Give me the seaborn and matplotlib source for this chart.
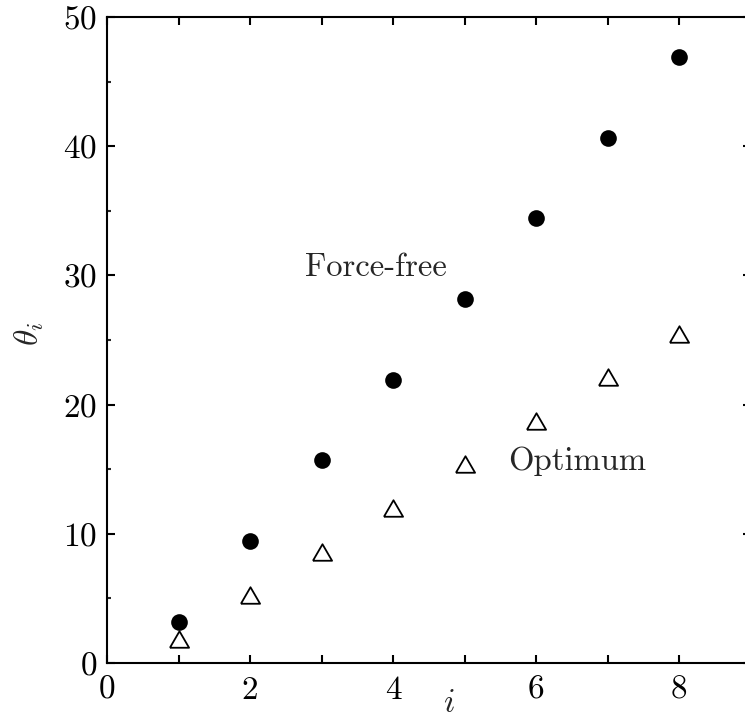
import matplotlib
matplotlib.use("Agg")
import matplotlib.pyplot as plt
from matplotlib.ticker import FixedLocator, FuncFormatter, MultipleLocator
import numpy as np
import pandas as pd
import seaborn as sns

# Link index
i_values = [1, 2, 3, 4, 5, 6, 7, 8]
# Angles for the force-free configuration
theta_force_free = [3.2, 9.45, 15.7, 21.9, 28.2, 34.45, 40.65, 46.9]
# Angles for the optimum configuration
theta_optimum = [1.85, 5.25, 8.6, 12.0, 15.4, 18.75, 22.1, 25.5]

x_ticks = [0, 1, 2, 3, 4, 5, 6, 7, 8, 9]
y_ticks = [0, 10, 20, 30, 40, 50]

sns.set_style("ticks")
plt.rcParams["font.family"] = ["cmr10"]
plt.rcParams["mathtext.fontset"] = "cm"
plt.rcParams["axes.unicode_minus"] = False
plt.rcParams["axes.formatter.use_mathtext"] = True

df = pd.DataFrame({
    "i": i_values * 2,
    "theta": theta_force_free + theta_optimum,
    "case": ["Force-free"] * len(i_values) + ["Optimum"] * len(i_values),
})

fig = plt.figure(figsize=(7.45, 7.21), dpi=100)
ax = fig.add_axes([107 / 745, 58 / 721, 643.5 / 745, 646 / 721])

tri = [(-0.58, -0.5), (0.58, -0.5), (0.0, 0.5), (-0.58, -0.5)]

sns.scatterplot(data=df[df["case"] == "Force-free"], x="i", y="theta",
                marker="o", s=144, color="black", linewidth=0, ax=ax,
                legend=False, zorder=3)
sns.scatterplot(data=df[df["case"] == "Optimum"], x="i", y="theta",
                marker=tri, s=190, facecolor="white", edgecolor="black",
                linewidth=1.3, ax=ax, legend=False, zorder=3)

ax.set_xlim(0, 9)
ax.set_ylim(0, 50)

ax.xaxis.set_major_locator(FixedLocator(x_ticks))
ax.xaxis.set_major_formatter(FuncFormatter(lambda v, p: f"{int(v)}" if int(v) % 2 == 0 and v < 9 else ""))
ax.yaxis.set_major_locator(FixedLocator(y_ticks))
ax.yaxis.set_minor_locator(MultipleLocator(5))

for side in ["left", "right", "top", "bottom"]:
    ax.spines[side].set_visible(True)
    ax.spines[side].set_linewidth(1.5)
    ax.spines[side].set_color("black")

ax.tick_params(which="major", direction="in", length=6, width=1.5,
               top=True, right=True, labelsize=24, colors="black")
ax.tick_params(which="minor", direction="in", length=3, width=1.5,
               top=True, right=True)
ax.tick_params(axis="x", which="major", pad=9)
ax.tick_params(axis="y", which="major", pad=7)

ax.set_xlabel(r"$i$", fontsize=24)
ax.set_ylabel(r"$\theta_i$", fontsize=24)
ax.xaxis.set_label_coords((449 - 107) / 643.5, -0.04)
ax.yaxis.set_label_coords(-0.095, 0.51)

ax.text(2.77, 30.6, "Force-free", fontsize=23.5, ha="left", va="center")
ax.text(5.61, 15.6, "Optimum", fontsize=23.5, ha="left", va="center")

ax.grid(False)
fig.savefig("out.png", dpi=100)
